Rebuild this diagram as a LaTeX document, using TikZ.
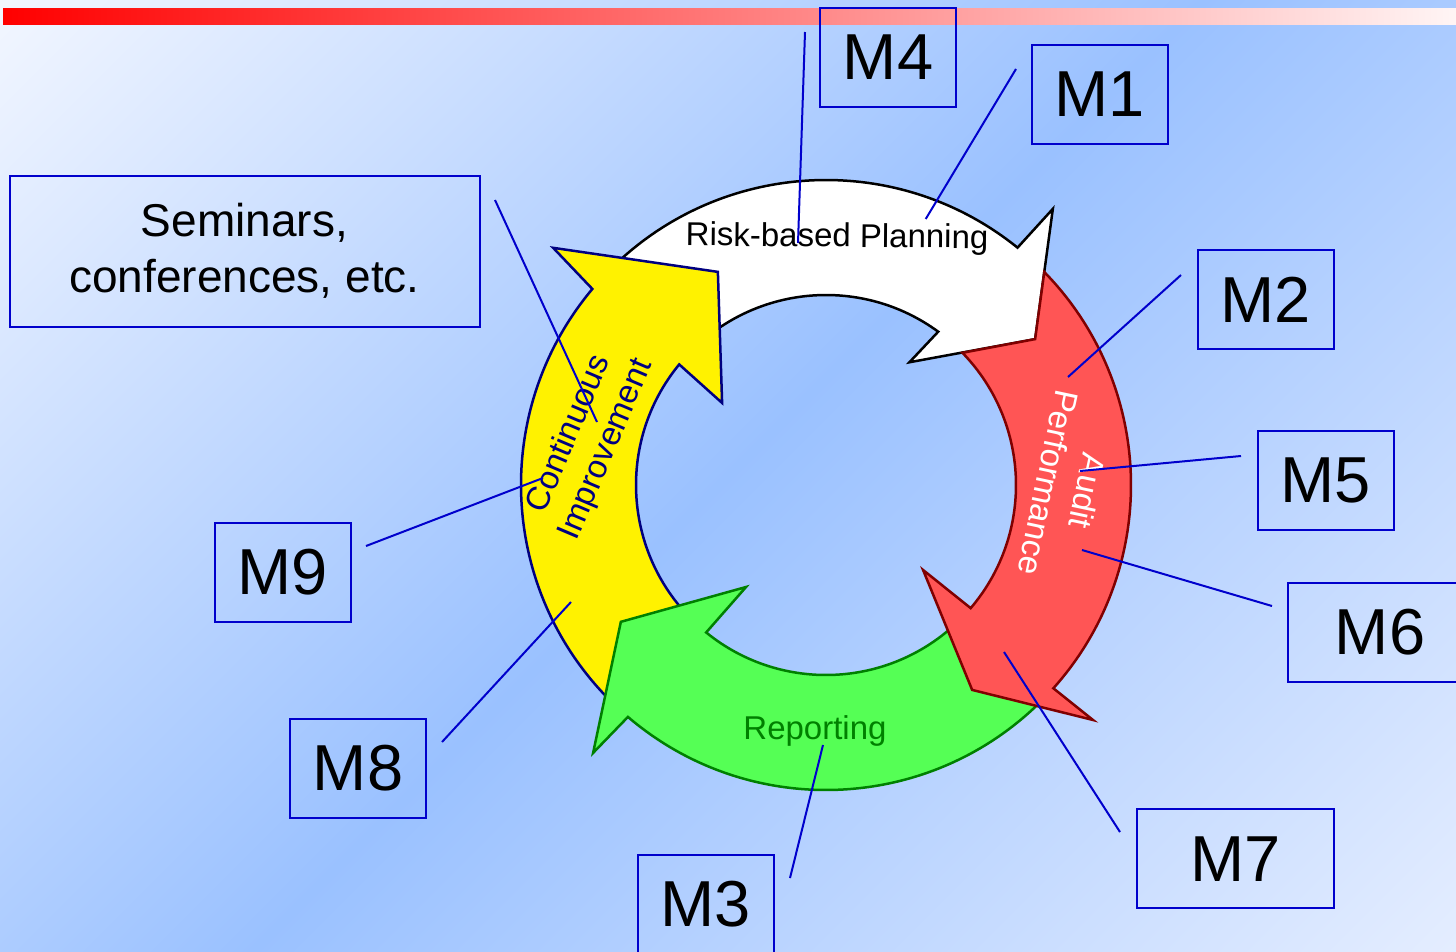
\documentclass[tikz,border=0pt]{standalone}
\usepackage{fontspec}
\setmainfont{Liberation Sans}
\usepackage{tikz}
\definecolor{bgA}{HTML}{F2F6FF}
\definecolor{bgB}{HTML}{9AC1FF}
\definecolor{bgC}{HTML}{E4EDFF}
\definecolor{boxblue}{HTML}{0000CC}
\definecolor{navy}{HTML}{000080}
\definecolor{darkred}{HTML}{800000}
\definecolor{repgreen}{HTML}{008000}
\definecolor{lightgreen}{HTML}{55FF55}
\definecolor{lightred}{HTML}{FF5555}
\pgfdeclarehorizontalshading{diagbg}{100bp}{color(0bp)=(bgA); color(14.6bp)=(bgA); color(50bp)=(bgB); color(85.4bp)=(bgC); color(100bp)=(bgC)}
\tikzset{
    m-box/.style = {draw=boxblue, line width=2pt, inner sep=0pt, minimum width=136pt, minimum height=99pt, font=\fontsize{65}{70}\selectfont},
    ring-arrow/.style = {line width=2.5pt, line join=miter},
    ring-text/.style = {inner sep=0pt, font=\fontsize{33}{40}\selectfont},
    lead-line/.style = {draw=boxblue, line width=2pt},
}

\begin{document}
\begin{tikzpicture}[x=1pt, y=1pt]
\useasboundingbox (0,0) rectangle (1456,-951);
\clip (0,0) rectangle (1456,-951);
\shade[shading=diagbg, shading angle=-45] (0,0) rectangle (1456,-951);
\shade[left color=red, middle color=red!38, right color=red!4] (3,-8) rectangle (1456,-24);

% the four arrows of the cycle
\begin{scope}[shift={(826,-485)}]
\coordinate (rp-tip) at (34.9:255);
\draw[ring-arrow, fill=white, draw=black] (135:305) arc[start angle=135, end angle=51.1, radius=305pt]
    -- (50.6:357.4) -- (rp-tip) -- (55.8:148.4) -- (53.8:190) arc[start angle=53.8, end angle=135, radius=190pt] -- cycle;
\draw[ring-arrow, fill=yellow, draw=navy] (228:305) arc[start angle=228, end angle=140, radius=305pt]
    -- (139:361.5) -- (116.9:239) -- (141.7:132.4) -- (140.6:190) arc[start angle=140.6, end angle=228, radius=190pt] -- cycle;
\draw[ring-arrow, fill=lightgreen, draw=repgreen] (-44:305) arc[start angle=-44, end angle=-130.5, radius=305pt]
    -- (-131:355) -- (-146.3:246.6) -- (-128.1:129.6) -- (-129.1:190) arc[start angle=-129.1, end angle=-44, radius=190pt] -- cycle;
\draw[ring-arrow, fill=lightred, draw=darkred] (44.3:305) -- (rp-tip) -- (44.1:190) arc[start angle=44.1, end angle=-40.4, radius=190pt]
    -- (-41.2:129) -- (-54.5:251.7) -- (-41.35:355.7) -- (-41.8:305) arc[start angle=-41.8, end angle=44.3, radius=305pt] -- cycle;
\end{scope}

\node[ring-text, anchor=base, rotate=-0.5] (planning) at (837,-247) {Risk-based Planning};
\node[ring-text, text=white, align=center, rotate=-102] (audit) at (1068,-487) {Audit\\Performance};
\node[ring-text, text=repgreen, anchor=base] (reporting) at (815,-739) {Reporting};
\node[ring-text, text=navy, align=center, rotate=67] (improve) at (588,-442) {Continuous\\Improvement};

% the boxes
\node[m-box] (m4) at (888,-57.5) {M4};
\node[m-box] (m1) at (1099.7,-94.3) {M1};
\node[m-box] (m2) at (1265.5,-299.5) {M2};
\node[m-box] (m5) at (1325.5,-480.5) {M5};
\node[m-box, minimum width=184pt] (m6) at (1380,-632.3) {M6};
\node[m-box, minimum width=197pt] (m7) at (1235.5,-858.8) {M7};
\node[m-box] (m3) at (705.5,-904.5) {M3};
\node[m-box] (m8) at (358,-768) {M8};
\node[m-box] (m9) at (282.5,-572) {M9};
\node[m-box, minimum width=470pt, minimum height=151pt, align=center, font=\fontsize{46}{56}\selectfont] (seminars) at (244.5,-251.2) {Seminars,\\conferences, etc.};

% leader lines
\coordinate (m4-from) at (805,-32);     \coordinate (m4-to) at (798,-243);
\coordinate (m1-from) at (1016,-69);    \coordinate (m1-to) at (925.7,-219);
\coordinate (m2-from) at (1181,-275);   \coordinate (m2-to) at (1068,-377);
\coordinate (m5-from) at (1241,-456);   \coordinate (m5-to) at (1080,-471);
\coordinate (m6-from) at (1272,-606);   \coordinate (m6-to) at (1082,-550);
\coordinate (m7-from) at (1120,-832);   \coordinate (m7-to) at (1004,-652);
\coordinate (m3-from) at (790,-878);    \coordinate (m3-to) at (823,-745);
\coordinate (m8-from) at (442,-742);    \coordinate (m8-to) at (571,-602);
\coordinate (m9-from) at (366,-546);    \coordinate (m9-to) at (543,-478);
\coordinate (sem-from) at (495,-200);   \coordinate (sem-to) at (597,-422);
\foreach \m in {m4,m1,m2,m5,m6,m7,m3,m8,m9,sem}
    \draw[lead-line] (\m-from) -- (\m-to);
\end{tikzpicture}
\end{document}
